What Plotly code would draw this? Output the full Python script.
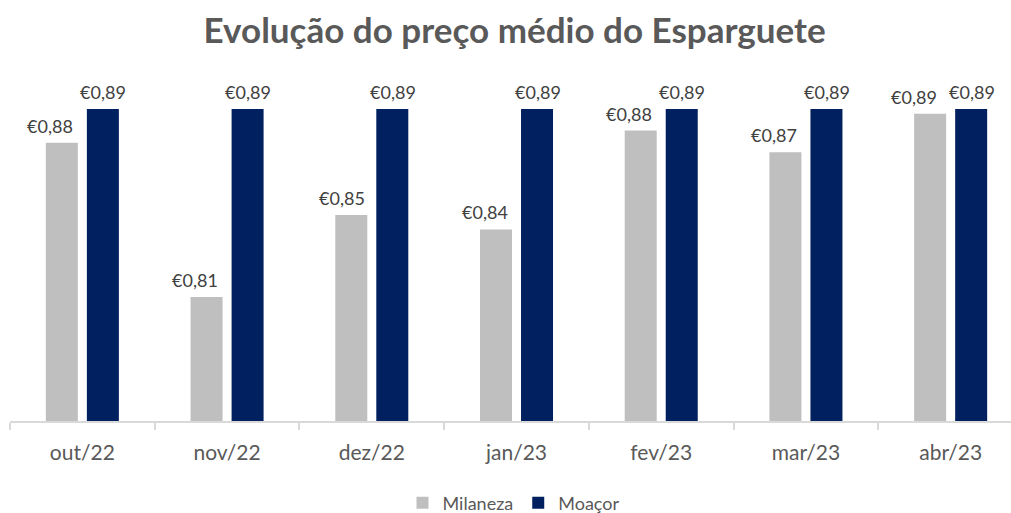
import plotly.graph_objects as go

categories = ["out/22", "nov/22", "dez/22", "jan/23", "fev/23", "mar/23", "abr/23"]
milaneza = [0.876, 0.812, 0.846, 0.840, 0.881, 0.872, 0.888]
moacor = [0.890, 0.890, 0.890, 0.890, 0.890, 0.890, 0.890]
series_names = ["Milaneza", "Moaçor"]
title_text = "Evolução do preço médio do Esparguete"

FONT = "Lato"
LABEL_FONT = dict(family=FONT, size=18, color="#404040")
# pixel offsets of the value labels from the category centre
mil_label_dx = [-32, -32, -30, -32, -32, -32, -37]
moa_label_dx = 21


def euro(v):
    return "€" + f"{v:.2f}".replace(".", ",")


fig = go.Figure()
fig.add_trace(go.Bar(
    x=categories, y=milaneza, name=series_names[0],
    marker=dict(color="#BFBFBF", line=dict(width=0)),
))
fig.add_trace(go.Bar(
    x=categories, y=moacor, name=series_names[1],
    marker=dict(color="#002060", line=dict(width=0)),
))

annotations = []
for i, c in enumerate(categories):
    annotations.append(dict(x=c, y=milaneza[i], xref="x", yref="y", text=euro(milaneza[i]),
                            showarrow=False, yanchor="bottom", xanchor="center",
                            xshift=mil_label_dx[i], yshift=4, font=LABEL_FONT))
    annotations.append(dict(x=c, y=moacor[i], xref="x", yref="y", text=euro(moacor[i]),
                            showarrow=False, yanchor="bottom", xanchor="center",
                            xshift=moa_label_dx, yshift=4, font=LABEL_FONT))

fig.update_layout(
    width=1011, height=513,
    separators=",.",
    barmode="group", bargap=0.433, bargroupgap=0.22,
    plot_bgcolor="white", paper_bgcolor="white",
    margin=dict(l=10, r=0, t=60, b=92, autoexpand=False),
    title=dict(text="<b>" + title_text + "</b>", x=0.509, xanchor="center",
               y=1 - 31 / 513, yref="container", yanchor="middle",
               font=dict(family=FONT, size=35, color="#595959")),
    showlegend=True,
    legend=dict(orientation="h", x=0.503, xanchor="center", y=-0.227, yanchor="middle",
                font=dict(family=FONT, size=18, color="#595959"),
                itemwidth=30, traceorder="normal"),
    xaxis=dict(
        range=[-0.5, 6.417], type="category", automargin=False,
        showline=True, linecolor="#D9D9D9", linewidth=1.5,
        ticks="outside", tickson="boundaries", ticklen=7, tickcolor="#D9D9D9", tickwidth=1.5,
        ticklabelstandoff=12,
        tickfont=dict(family=FONT, size=21, color="#595959"),
        showgrid=False, zeroline=False,
    ),
    yaxis=dict(range=[0.7605, 0.9103], visible=False, showgrid=False, zeroline=False,
               automargin=False),
    annotations=annotations,
)

fig.write_html("out.html", config={"displayModeBar": False},
               post_script="document.body.style.margin='0';")
